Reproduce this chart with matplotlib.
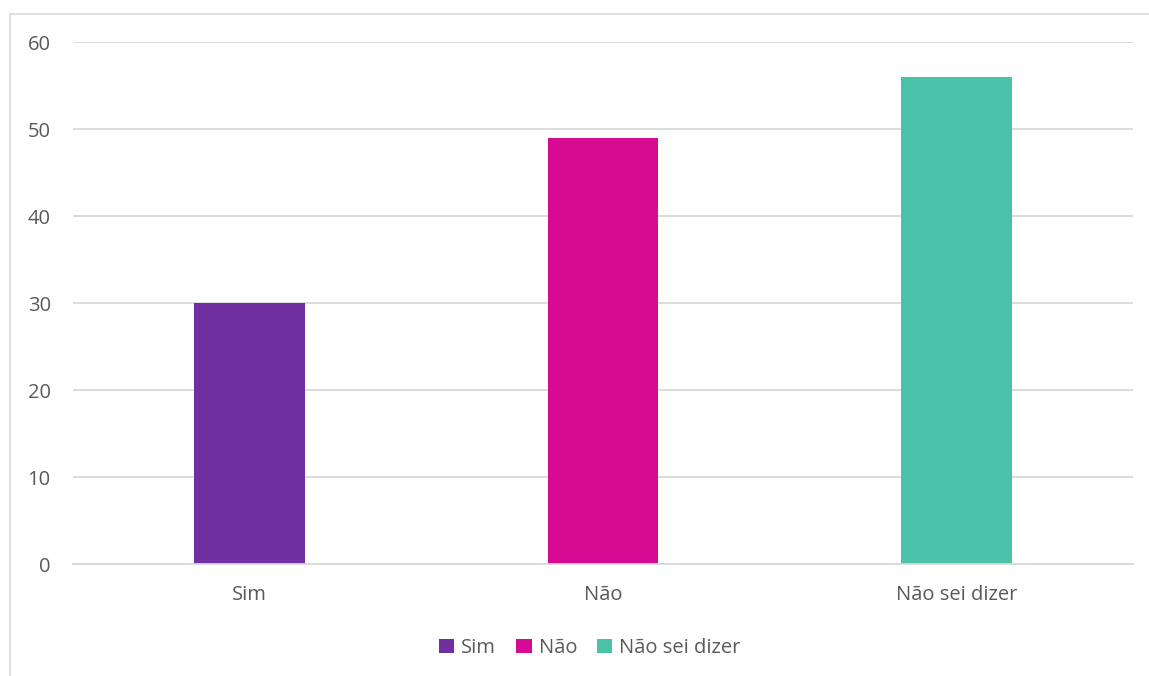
import matplotlib
matplotlib.use("Agg")
import matplotlib.pyplot as plt
from matplotlib.patches import Patch
from matplotlib.lines import Line2D

categories = ["Sim", "Não", "Não sei dizer"]
values = [30, 49, 56]
colors = ["#7030A0", "#D60A93", "#4BC2A8"]
y_ticks = [0, 10, 20, 30, 40, 50, 60]

plt.rcParams["font.family"] = ["Open Sans", "DejaVu Sans"]
text_color = "#595959"
grid_color = "#D9D9D9"
fsize = 14.5

fig = plt.figure(figsize=(11.49, 6.76), dpi=100)
ax = fig.add_axes([73 / 1149, 1 - 564 / 676, 1060 / 1149, 522 / 676])

x = range(len(categories))
ax.bar(x, values, width=0.314, color=colors, zorder=3)

ax.set_xlim(-0.5, len(categories) - 0.5)
ax.set_ylim(0, 60)
ax.set_yticks(y_ticks)
ax.set_yticklabels([str(t) for t in y_ticks])
ax.set_xticks(list(x))
ax.set_xticklabels(categories)

ax.yaxis.grid(True, color=grid_color, linewidth=1.3, zorder=0)
ax.set_axisbelow(True)
for side in ["top", "right", "left"]:
    ax.spines[side].set_visible(False)
ax.spines["bottom"].set_color(grid_color)
ax.spines["bottom"].set_linewidth(1.3)
ax.spines["bottom"].set_zorder(4)
ax.tick_params(axis="both", length=0, labelsize=fsize, labelcolor=text_color)
ax.tick_params(axis="y", pad=16)
ax.tick_params(axis="x", pad=15)

handles = [Patch(facecolor=c, edgecolor="none") for c in colors]
fig.legend(handles, categories, loc="center", bbox_to_anchor=(590 / 1149, 1 - 648 / 676),
           ncol=3, frameon=False, fontsize=fsize, labelcolor=text_color,
           handlelength=0.75, handleheight=0.75, handletextpad=0.35, columnspacing=1.0)

# light chart-area border along the left and top edges
fig.add_artist(Line2D([9.5 / 1149, 9.5 / 1149], [0, 1 - 13.5 / 676],
                      transform=fig.transFigure, color=grid_color, linewidth=1.2))
fig.add_artist(Line2D([9.5 / 1149, 1], [1 - 13.5 / 676, 1 - 13.5 / 676],
                      transform=fig.transFigure, color=grid_color, linewidth=1.2))

fig.savefig("out.png", dpi=100, facecolor="white")
